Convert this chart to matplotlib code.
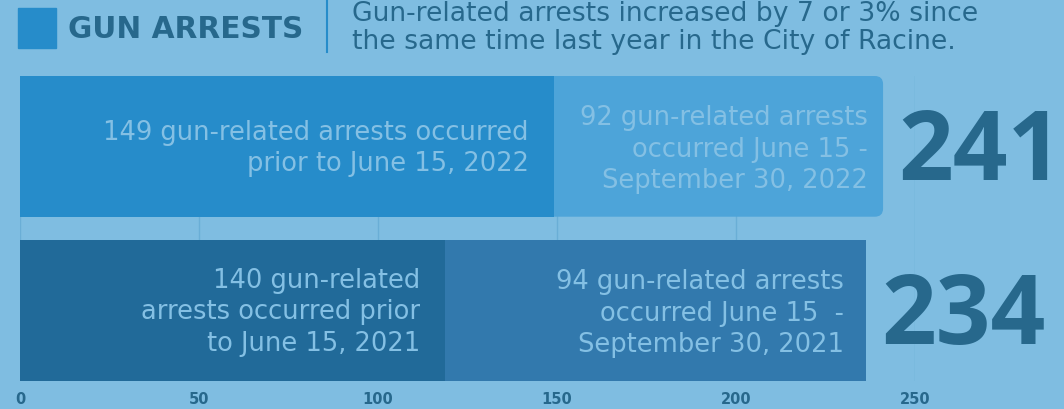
import matplotlib
matplotlib.use("Agg")
from matplotlib import pyplot as plt
from matplotlib.patches import FancyBboxPatch

# values
years = ["2022", "2021"]
prior_len = [149, 118.7]      # drawn length of first segment
after_len = [92, 117.5]       # drawn length of second segment
totals = ["241", "234"]
prior_text = [
    "149 gun-related arrests occurred\nprior to June 15, 2022",
    "140 gun-related\narrests occurred prior\nto June 15, 2021",
]
after_text = [
    "92 gun-related arrests\noccurred June 15 -\nSeptember 30, 2022",
    "94 gun-related arrests\noccurred June 15  -\nSeptember 30, 2021",
]
ticks = [0, 50, 100, 150, 200, 250]

BG = "#7fbde1"
DARK = "#27688c"
LIGHT = "#84c0e4"
prior_colors = ["#268cca", "#216a99"]
after_colors = ["#4da4d9", "#3279ad"]

plt.rcParams["font.family"] = ["DejaVu Sans"]

W, H = 1064, 409
fig = plt.figure(figsize=(W / 100, H / 100), dpi=100, facecolor=BG)

# header
fig.patches.append(plt.Rectangle((18 / W, 1 - 48 / H), 38 / W, 40 / H,
                                 transform=fig.transFigure, color="#268cca"))
fig.text(68 / W, 1 - 29 / H, "GUN ARRESTS", fontsize=21.3, fontweight="bold",
         color=DARK, va="center", ha="left")
fig.add_artist(plt.Line2D([327 / W, 327 / W], [1, 1 - 52 / H],
                          transform=fig.transFigure, color="#268cca", lw=1.5))
fig.text(352 / W, 1 - 28 / H,
         "Gun-related arrests increased by 7 or 3% since\n"
         "the same time last year in the City of Racine.",
         fontsize=19.2, color=DARK, va="center", ha="left", linespacing=1.08)

ax = fig.add_axes([20 / W, (H - 380.7) / H, 895.3 / W, 304.7 / H])
ax.set_facecolor(BG)
ax.set_xlim(0, 250)
ax.set_ylim(-0.429, 1.429)

ypos = [1, 0]
h = 0.858
for i in range(2):
    y = ypos[i]
    if i == 0:
        # rounded right end on the top bar
        box = FancyBboxPatch((prior_len[i] - 5, y - h / 2), after_len[i] + 5, h,
                             boxstyle="round,pad=0,rounding_size=2.3",
                             mutation_aspect=0.0215, fc=after_colors[i],
                             ec="none", zorder=2)
        ax.add_patch(box)
    else:
        ax.barh(y, after_len[i], left=prior_len[i], height=h,
                color=after_colors[i], zorder=2)
    ax.barh(y, prior_len[i], height=h, color=prior_colors[i], zorder=3)

    ax.annotate(prior_text[i], xy=(prior_len[i], y), xytext=(-18, -1.5),
                textcoords="offset points", ha="right", va="center",
                fontsize=18.5, color=LIGHT, linespacing=1.27, zorder=4,
                multialignment="right")
    ax.annotate(after_text[i], xy=(prior_len[i] + after_len[i], y),
                xytext=(-11 if i == 0 else -16, -2.5),
                textcoords="offset points", ha="right", va="center",
                fontsize=18.5, color=LIGHT, linespacing=1.27, zorder=4,
                multialignment="right")
    ax.annotate(totals[i], xy=(prior_len[i] + after_len[i], y),
                xytext=(11, -6), textcoords="offset points", ha="left",
                va="center", fontsize=69, fontweight="bold",
                fontfamily="Open Sans", color=DARK,
                annotation_clip=False, zorder=4)

ax.set_xticks(ticks)
ax.set_xticklabels([str(t) for t in ticks], fontweight="bold", fontsize=10.5,
                   color=DARK)
ax.tick_params(axis="x", length=0, pad=8)
ax.set_yticks([])
ax.grid(axis="x", color="#6aaed6", lw=1, zorder=0)
ax.set_axisbelow(True)
for s in ax.spines.values():
    s.set_visible(False)

plt.savefig("out.png", dpi=100, facecolor=BG)
